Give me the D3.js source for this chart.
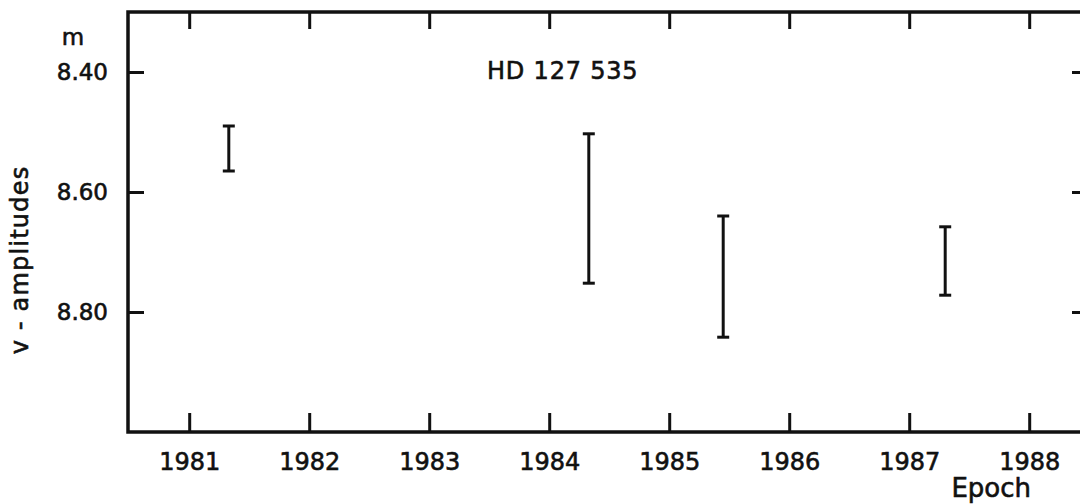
<!DOCTYPE html>
<html>
<head>
<meta charset="utf-8">
<title>HD 127 535 v-amplitudes</title>
<script src="https://d3js.org/d3.v7.min.js"></script>
<style>
  body { margin: 0; background: #fff; }
  svg { display: block; }
  text { stroke: #111; stroke-width: 0.6px; }
</style>
</head>
<body>
<svg width="1080" height="504" font-family="DejaVu Sans, sans-serif"></svg>
<script>
// error bars: epoch, bright end and faint end of the v-amplitude range (mag)
var epochs = [1981.33, 1984.33, 1985.45, 1987.30];
var magTop = [8.49, 8.503, 8.64, 8.658];
var magBottom = [8.565, 8.752, 8.842, 8.772];

var yearTicks = [1981, 1982, 1983, 1984, 1985, 1986, 1987, 1988];
var magTicks = [8.40, 8.60, 8.80];

var data = epochs.map(function(e, i) {
  return { epoch: e, lo: magTop[i], hi: magBottom[i] };
});

var svg = d3.select("svg"),
    x0 = 128, x1 = 1088, y0 = 12, y1 = 432;

var x = d3.scaleLinear().domain([1980.49, 1988.49]).range([x0, x1]);
var y = d3.scaleLinear().domain([8.30, 9.00]).range([y0, y1]);

// frame
svg.append("path")
    .attr("d", "M" + x1 + "," + y0 + "H" + x0 + "V" + y1 + "H" + x1 + "Z")
    .attr("fill", "none")
    .attr("stroke", "#111")
    .attr("stroke-width", 3.5);

function styleAxis(g) {
  g.select(".domain").remove();
  g.selectAll(".tick line").attr("stroke", "#111").attr("stroke-width", 3);
  g.selectAll(".tick text").attr("fill", "#111");
}

svg.append("g")
    .attr("transform", "translate(0," + y1 + ")")
    .call(d3.axisBottom(x).tickValues(yearTicks).tickFormat(d3.format("d"))
      .tickSizeInner(-19).tickSizeOuter(0).tickPadding(21))
    .call(styleAxis)
    .selectAll("text").attr("font-size", 24).attr("font-family", "DejaVu Sans, sans-serif");

svg.append("g")
    .attr("transform", "translate(0," + y0 + ")")
    .call(d3.axisTop(x).tickValues(yearTicks).tickFormat("")
      .tickSizeInner(-17).tickSizeOuter(0))
    .call(styleAxis);

svg.append("g")
    .attr("transform", "translate(" + x0 + ",0)")
    .call(d3.axisLeft(y).tickValues(magTicks).tickFormat(d3.format(".2f"))
      .tickSizeInner(-16).tickSizeOuter(0).tickPadding(20))
    .call(styleAxis)
    .selectAll("text").attr("font-size", 23).attr("font-family", "DejaVu Sans, sans-serif");

svg.append("g")
    .attr("transform", "translate(" + x1 + ",0)")
    .call(d3.axisRight(y).tickValues(magTicks).tickFormat("")
      .tickSizeInner(-16).tickSizeOuter(0))
    .call(styleAxis);

// error bars
var bars = svg.append("g").attr("stroke", "#111").attr("stroke-width", 3)
  .selectAll("g").data(data).enter().append("g");

bars.append("line")
    .attr("x1", function(d) { return x(d.epoch); })
    .attr("x2", function(d) { return x(d.epoch); })
    .attr("y1", function(d) { return y(d.lo); })
    .attr("y2", function(d) { return y(d.hi); });

bars.selectAll(".cap")
    .data(function(d) { return [{ e: d.epoch, m: d.lo }, { e: d.epoch, m: d.hi }]; })
    .enter().append("line")
    .attr("class", "cap")
    .attr("x1", function(d) { return x(d.e) - 6; })
    .attr("x2", function(d) { return x(d.e) + 6; })
    .attr("y1", function(d) { return y(d.m); })
    .attr("y2", function(d) { return y(d.m); });

// labels
svg.append("text")
    .attr("x", 487).attr("y", 79)
    .attr("font-size", 24).attr("letter-spacing", 0.8).attr("fill", "#111")
    .text("HD 127 535");

svg.append("text")
    .attr("x", 73).attr("y", 45)
    .attr("text-anchor", "middle")
    .attr("font-size", 23).attr("fill", "#111")
    .text("m");

svg.append("text")
    .attr("transform", "translate(28,260)rotate(-90)")
    .attr("text-anchor", "middle")
    .attr("font-size", 24).attr("letter-spacing", 1.2).attr("fill", "#111")
    .text("v - amplitudes");

svg.append("text")
    .attr("x", 1031).attr("y", 497)
    .attr("text-anchor", "end")
    .attr("font-size", 26).attr("fill", "#111")
    .text("Epoch");
</script>
</body>
</html>
